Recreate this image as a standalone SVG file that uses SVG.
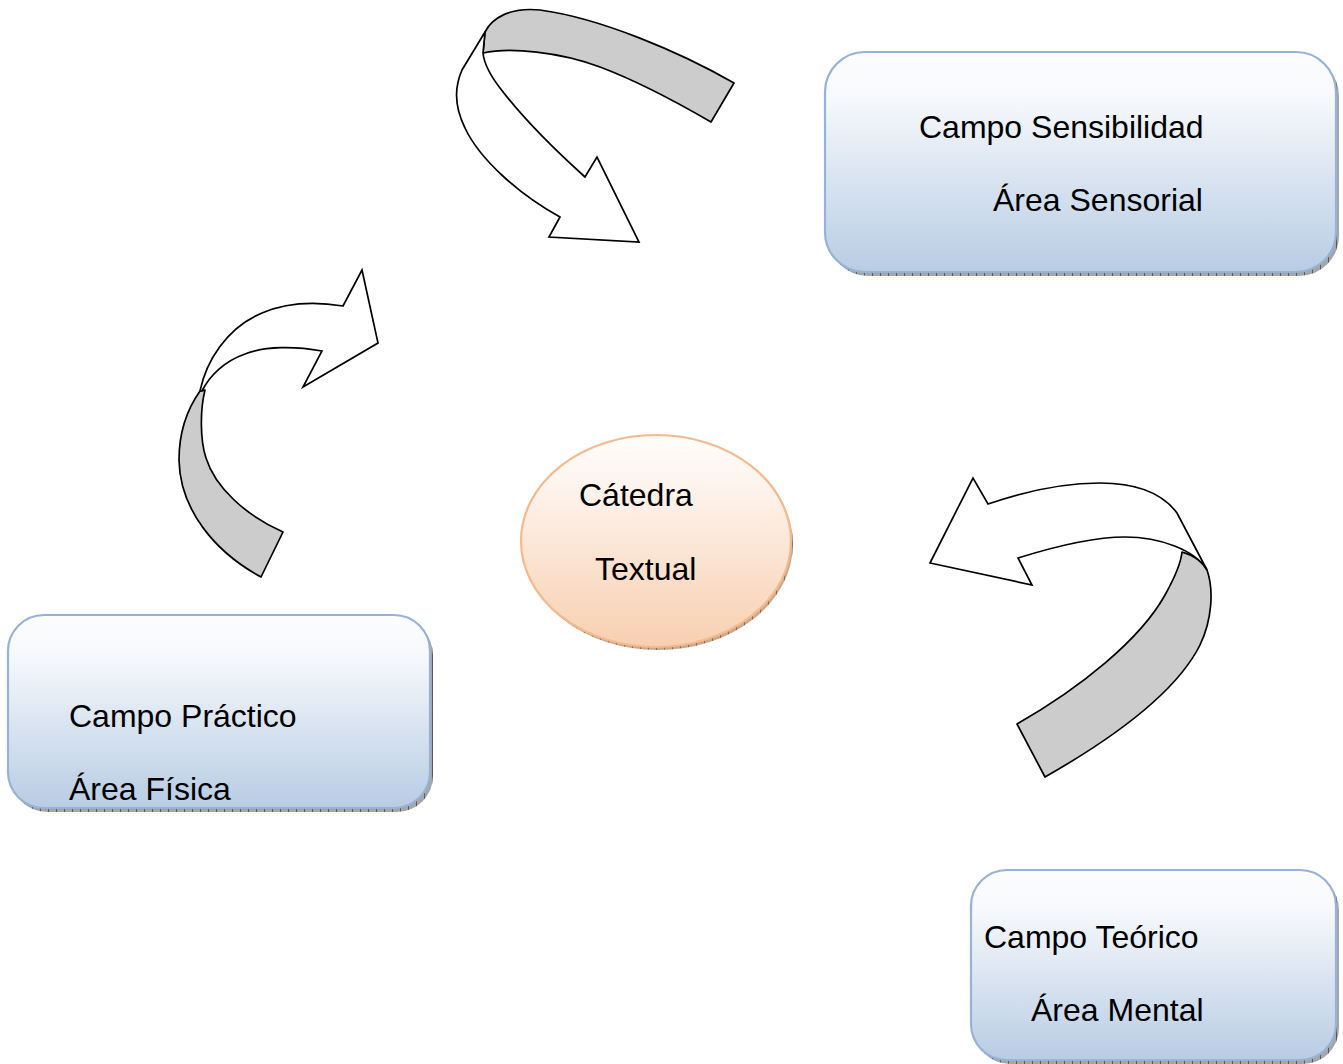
<svg xmlns="http://www.w3.org/2000/svg" width="1343" height="1064" viewBox="0 0 1343 1064">
  <defs>
    <linearGradient id="boxFill" x1="0" y1="0" x2="0" y2="1">
      <stop offset="0" stop-color="#fdfdfe"/>
      <stop offset="0.2" stop-color="#f7f9fc"/>
      <stop offset="1" stop-color="#b8cce4"/>
    </linearGradient>
    <linearGradient id="ovalFill" x1="0" y1="0" x2="0" y2="1">
      <stop offset="0" stop-color="#fefdfc"/>
      <stop offset="0.25" stop-color="#fdf3ec"/>
      <stop offset="1" stop-color="#f8cfb0"/>
    </linearGradient>
    <pattern id="hatch" width="8" height="8" patternUnits="userSpaceOnUse">
      <rect width="8" height="8" fill="#a6a6a6"/>
      <line x1="0.5" y1="0" x2="0.5" y2="8" stroke="#5a5a5a" stroke-width="1"/>
    </pattern>
    <pattern id="hatchWarm" width="8" height="8" patternUnits="userSpaceOnUse">
      <rect width="8" height="8" fill="#c9a88f"/>
      <line x1="0.5" y1="0" x2="0.5" y2="8" stroke="#8a6a55" stroke-width="1"/>
    </pattern>
  </defs>
  <style>
    .box { fill: url(#boxFill); stroke: #95b3d7; stroke-width: 2.2; }
    .shadow { fill: url(#hatch); }
    .oval { fill: url(#ovalFill); stroke: #f5b98e; stroke-width: 2.2; }
    .ovalShadow { fill: url(#hatchWarm); }
    .band { fill: #cccccc; stroke: #000; stroke-width: 1.7; stroke-linejoin: round; }
    .arrow { fill: #ffffff; stroke: #000; stroke-width: 1.7; stroke-linejoin: miter; }
    .label { font-family: "Liberation Sans", Arial, sans-serif; font-size: 32px; fill: #000; }
  </style>

  <rect width="1343" height="1064" fill="#ffffff"/>

  <!-- curved connectors -->
  <g id="connectors">
    <!-- top: from sensory field towards the centre -->
    <g id="arrow-top">
      <path class="band" d="M734,83 C 680,52 600,18 540,10 C 510,7 492,18 485,32 L483,53 C 510,47 560,52 600,67 C 640,82 680,104 711,122 Z"/>
      <path class="arrow" d="M485,32 L462,70 C 454,88 455,108 465,128 C 480,160 520,195 560,217 L549,237 L639,242 L597,157 L585,177 C 555,150 522,117 500,88 C 490,75 484,63 483,53 Z"/>
    </g>
    <!-- left: from practical field upwards -->
    <g id="arrow-left">
      <path class="band" d="M261,577 C 215,552 180,510 179,460 C 179,430 188,408 200,391 L205,390 C 200,410 200,440 206,458 C 215,487 245,515 283,532 Z"/>
      <path class="arrow" d="M200,391 C 206,362 226,328 262,313 C 288,302 318,302 343,306 L362,270 L378,343 L303,387 L322,351 C 295,346 265,346 245,354 C 225,361 210,375 202,391 Z"/>
    </g>
    <!-- right: from theoretical field towards the centre -->
    <g id="arrow-right">
      <path class="band" d="M1017,724 C 1080,688 1140,640 1165,595 C 1175,577 1181,563 1182,552 C 1195,556 1203,562 1207,570 C 1214,590 1212,620 1200,645 C 1175,695 1110,740 1045,777 Z"/>
      <path class="arrow" d="M1207,570 L1177,513 C 1160,490 1130,483 1100,483 C 1060,483 1020,493 988,504 L973,478 L930,563 L1032,585 L1018,558 C 1050,548 1090,537 1125,537 C 1160,537 1195,550 1207,570 Z"/>
    </g>
  </g>

  <!-- centre -->
  <g id="node-catedra">
    <ellipse class="ovalShadow" cx="658" cy="544" rx="135" ry="106"/>
    <ellipse class="oval" cx="656" cy="541" rx="135" ry="106"/>
    <text class="label" x="579" y="506">Cátedra</text>
    <text class="label" x="595" y="580">Textual</text>
  </g>

  <g id="node-sensibilidad">
    <rect class="shadow" x="828" y="56" width="511" height="220" rx="40"/>
    <rect class="box" x="825" y="52" width="511" height="220" rx="40"/>
    <text class="label" x="919" y="138">Campo Sensibilidad</text>
    <text class="label" x="993" y="211">Área Sensorial</text>
  </g>

  <g id="node-practico">
    <rect class="shadow" x="11" y="619" width="422" height="193" rx="36"/>
    <rect class="box" x="8" y="615" width="422" height="193" rx="36"/>
    <text class="label" x="69" y="727">Campo Práctico</text>
    <text class="label" x="69" y="800">Área Física</text>
  </g>

  <g id="node-teorico">
    <rect class="shadow" x="974" y="874" width="365" height="190" rx="36"/>
    <rect class="box" x="971" y="870" width="365" height="190" rx="36"/>
    <text class="label" x="984" y="948">Campo Teórico</text>
    <text class="label" x="1031" y="1021">Área Mental</text>
  </g>
</svg>
